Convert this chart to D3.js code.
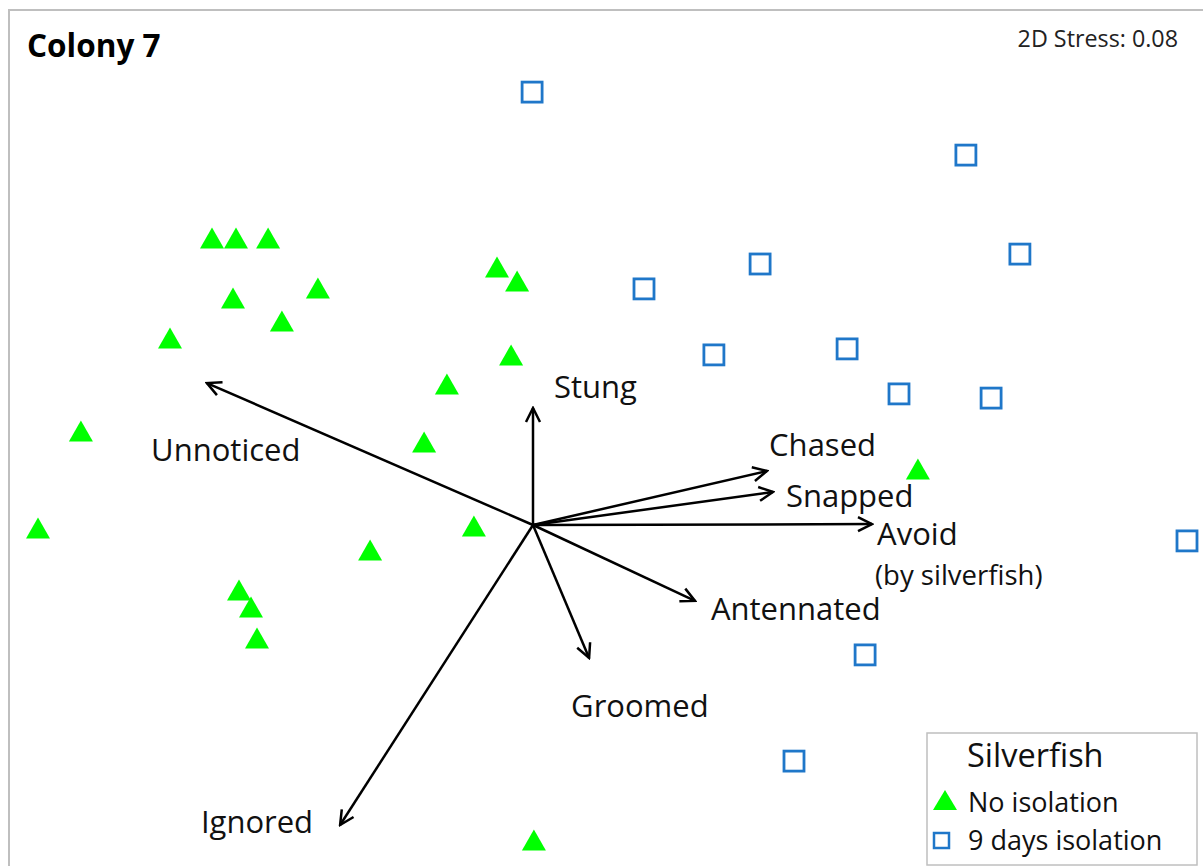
<!DOCTYPE html>
<html>
<head>
<meta charset="utf-8">
<script src="https://cdn.jsdelivr.net/npm/d3@7"></script>
<style>
  html, body { margin: 0; padding: 0; background: #fff; }
  svg { display: block; font-family: "Open Sans", Lato, sans-serif; }
</style>
</head>
<body>
<svg id="chart" width="1203" height="866"></svg>
<script>
// ---- Data (NMDS ordination units) ----
const noIsolationX = [-1.070, -0.990, -0.883, -1.000, -0.717, -0.837, -1.210, -0.120, -0.053, -0.073, -0.287,
                      -0.363, -1.507, -1.650, -0.543, -0.197, -0.980, -0.940, -0.920, 1.283, 0.003];
const noIsolationY = [0.957, 0.957, 0.957, 0.757, 0.790, 0.680, 0.623, 0.860, 0.813, 0.567, 0.470,
                      0.277, 0.313, -0.010, -0.083, -0.003, -0.217, -0.273, -0.377, 0.187, -1.050];
const isolationX = [-0.003, 1.443, 1.623, 0.757, 0.370, 0.603, 1.047, 1.220, 1.527, 2.180, 1.107, 0.870];
const isolationY = [1.443, 1.233, 0.903, 0.870, 0.787, 0.567, 0.587, 0.437, 0.423, -0.053, -0.433, -0.787];

const vectorNames = ["Stung", "Unnoticed", "Chased", "Snapped", "Avoid", "Antennated", "Groomed", "Ignored"];
const vectorX = [0.000, -1.087, 0.780, 0.800, 1.130, 0.540, 0.187, -0.643];
const vectorY = [0.390, 0.473, 0.180, 0.110, 0.003, -0.253, -0.443, -1.000];

const titleText = "Colony 7";
const stressText = "2D Stress: 0.08";
const legendTitle = "Silverfish";
const seriesNames = ["No isolation", "9 days isolation"];
const avoidNote = "(by silverfish)";

// ---- Layout ----
const GREEN = "#00ff00";
const BLUE = "#1f77c9";
const svg = d3.select("#chart");

const x = d3.scaleLinear().domain([0, 1]).range([533, 833]);
const y = d3.scaleLinear().domain([0, 1]).range([525, 225]);

// label anchor positions (data units) for vector labels: left/baseline
const labelX = [0.070, -1.273, 0.787, 0.843, 1.147, 0.593, 0.127, -1.107];
const labelY = [0.423, 0.213, 0.230, 0.060, -0.067, -0.317, -0.640, -1.027];

// outer frame
svg.append("rect")
  .attr("x", 9).attr("y", 10).attr("width", 1220).attr("height", 900)
  .attr("fill", "none").attr("stroke", "#bfbfbf").attr("stroke-width", 2);

// title + stress
svg.append("text").attr("x", 27).attr("y", 57)
  .attr("font-size", 31.5).attr("font-weight", "bold").attr("fill", "#000").text(titleText);
svg.append("text").attr("x", 1178).attr("y", 47).attr("text-anchor", "end")
  .attr("font-size", 23.3).attr("fill", "#222").text(stressText);

// arrow marker
svg.append("defs").append("marker")
  .attr("id", "arrow").attr("markerUnits", "userSpaceOnUse")
  .attr("viewBox", "-16 -9 18 18").attr("refX", 0).attr("refY", 0)
  .attr("markerWidth", 18).attr("markerHeight", 18).attr("orient", "auto")
  .append("path").attr("d", "M-14,-7 L0,0 L-14,7")
  .attr("fill", "none").attr("stroke", "#000").attr("stroke-width", 2.5)
  .attr("stroke-linejoin", "miter");

// points: triangles
const tri = (cx, cy, w, h) => `M${cx - w / 2},${cy + h / 2} L${cx + w / 2},${cy + h / 2} L${cx},${cy - h / 2} Z`;
svg.append("g").selectAll("path")
  .data(d3.range(noIsolationX.length))
  .join("path")
  .attr("d", i => tri(x(noIsolationX[i]), y(noIsolationY[i]), 24, 21))
  .attr("fill", GREEN);

// squares
svg.append("g").selectAll("rect")
  .data(d3.range(isolationX.length))
  .join("rect")
  .attr("x", i => x(isolationX[i]) - 10)
  .attr("y", i => y(isolationY[i]) - 10)
  .attr("width", 20).attr("height", 20)
  .attr("fill", "#fff").attr("stroke", BLUE).attr("stroke-width", 2.8);

// vectors
svg.append("g").selectAll("line")
  .data(vectorNames)
  .join("line")
  .attr("x1", x(0)).attr("y1", y(0))
  .attr("x2", (d, i) => x(vectorX[i])).attr("y2", (d, i) => y(vectorY[i]))
  .attr("stroke", "#000").attr("stroke-width", 2.5)
  .attr("marker-end", "url(#arrow)");

svg.append("g").selectAll("text")
  .data(vectorNames)
  .join("text")
  .attr("x", (d, i) => x(labelX[i])).attr("y", (d, i) => y(labelY[i]))
  .attr("font-size", 31).attr("fill", "#111")
  .text(d => d);

svg.append("text").attr("x", x(1.140)).attr("y", y(-0.200))
  .attr("font-size", 27.5).attr("fill", "#111").text(avoidNote);

// legend
const lg = svg.append("g");
lg.append("rect").attr("x", 927).attr("y", 733).attr("width", 270).attr("height", 132)
  .attr("fill", "#fff").attr("stroke", "#bfbfbf").attr("stroke-width", 1.5);
lg.append("text").attr("x", 967).attr("y", 767).attr("font-size", 32.5).attr("fill", "#111").text(legendTitle);
lg.append("path").attr("d", tri(945, 800, 24, 20)).attr("fill", GREEN);
lg.append("text").attr("x", 968).attr("y", 812).attr("font-size", 27).attr("fill", "#111").text(seriesNames[0]);
lg.append("rect").attr("x", 934).attr("y", 833).attr("width", 15).attr("height", 15)
  .attr("fill", "#fff").attr("stroke", BLUE).attr("stroke-width", 2.5);
lg.append("text").attr("x", 968).attr("y", 850).attr("font-size", 27).attr("fill", "#111").text(seriesNames[1]);
</script>
</body>
</html>
